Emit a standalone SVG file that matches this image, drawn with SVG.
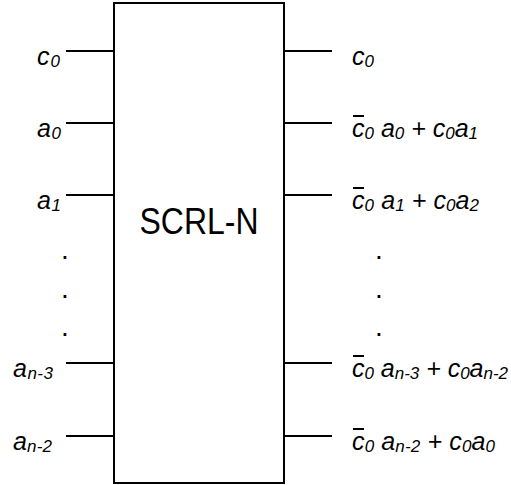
<svg xmlns="http://www.w3.org/2000/svg" width="511" height="485" viewBox="0 0 511 485">
<style>
.w{stroke:#000;stroke-width:2;fill:none}
.l{font-family:"Liberation Sans",Arial,sans-serif;font-style:italic;font-size:25px;fill:#000}
.s{font-size:17px}
.d{font-family:"Liberation Sans",Arial,sans-serif;font-size:28px;fill:#000;text-anchor:middle}
.t{font-family:"Liberation Sans",Arial,sans-serif;font-size:36px;fill:#000;text-anchor:middle}
</style>
<rect width="511" height="485" fill="#fff"/>
<g id="block">
<rect class="w" x="114" y="3" width="170" height="480"/>
<text class="t" x="199" y="234" textLength="119" lengthAdjust="spacingAndGlyphs">SCRL-N</text>
</g>
<g id="connectors">
<line class="w" x1="66" y1="51" x2="114" y2="51"/>
<line class="w" x1="66" y1="123" x2="114" y2="123"/>
<line class="w" x1="66" y1="195" x2="114" y2="195"/>
<line class="w" x1="66" y1="363" x2="114" y2="363"/>
<line class="w" x1="66" y1="436" x2="114" y2="436"/>
<line class="w" x1="284" y1="51" x2="332" y2="51"/>
<line class="w" x1="284" y1="123" x2="332" y2="123"/>
<line class="w" x1="284" y1="195" x2="332" y2="195"/>
<line class="w" x1="284" y1="363" x2="332" y2="363"/>
<line class="w" x1="284" y1="436" x2="332" y2="436"/>
</g>
<g id="inputs">
<text class="l" x="37" y="65" textLength="23">c<tspan class="s" dy="2">0</tspan></text>
<text class="l" x="37" y="137" textLength="24">a<tspan class="s" dy="2">0</tspan></text>
<text class="l" x="37" y="209" textLength="24">a<tspan class="s" dy="2">1</tspan></text>
<text class="l" x="13" y="377" textLength="40">a<tspan class="s" dy="2">n-3</tspan></text>
<text class="l" x="13" y="450" textLength="39">a<tspan class="s" dy="2">n-2</tspan></text>
<text class="d" x="65" y="259">.</text>
<text class="d" x="65" y="298">.</text>
<text class="d" x="65" y="336">.</text>
</g>
<g id="outputs">
<text class="l" x="352" y="65" textLength="22">c<tspan class="s" dy="2">0</tspan></text>
<text class="l" x="352" y="137" textLength="126">c<tspan class="s" dy="2">0</tspan><tspan dy="-2"> a</tspan><tspan class="s" dy="2">0</tspan><tspan dy="-2"> + c</tspan><tspan class="s" dy="2">0</tspan><tspan dy="-2">a</tspan><tspan class="s" dy="2">1</tspan></text>
<text class="l" x="352" y="209" textLength="127">c<tspan class="s" dy="2">0</tspan><tspan dy="-2"> a</tspan><tspan class="s" dy="2">1</tspan><tspan dy="-2"> + c</tspan><tspan class="s" dy="2">0</tspan><tspan dy="-2">a</tspan><tspan class="s" dy="2">2</tspan></text>
<text class="l" x="352" y="377" textLength="156">c<tspan class="s" dy="2">0</tspan><tspan dy="-2"> a</tspan><tspan class="s" dy="2">n-3</tspan><tspan dy="-2"> + c</tspan><tspan class="s" dy="2">0</tspan><tspan dy="-2">a</tspan><tspan class="s" dy="2">n-2</tspan></text>
<text class="l" x="352" y="450" textLength="143">c<tspan class="s" dy="2">0</tspan><tspan dy="-2"> a</tspan><tspan class="s" dy="2">n-2</tspan><tspan dy="-2"> + c</tspan><tspan class="s" dy="2">0</tspan><tspan dy="-2">a</tspan><tspan class="s" dy="2">0</tspan></text>
<line class="w" x1="353" y1="116" x2="364" y2="116"/>
<line class="w" x1="353" y1="188" x2="364" y2="188"/>
<line class="w" x1="353" y1="356" x2="364" y2="356"/>
<line class="w" x1="353" y1="429" x2="364" y2="429"/>
<text class="d" x="379" y="259">.</text>
<text class="d" x="379" y="298">.</text>
<text class="d" x="379" y="336">.</text>
</g>
</svg>
